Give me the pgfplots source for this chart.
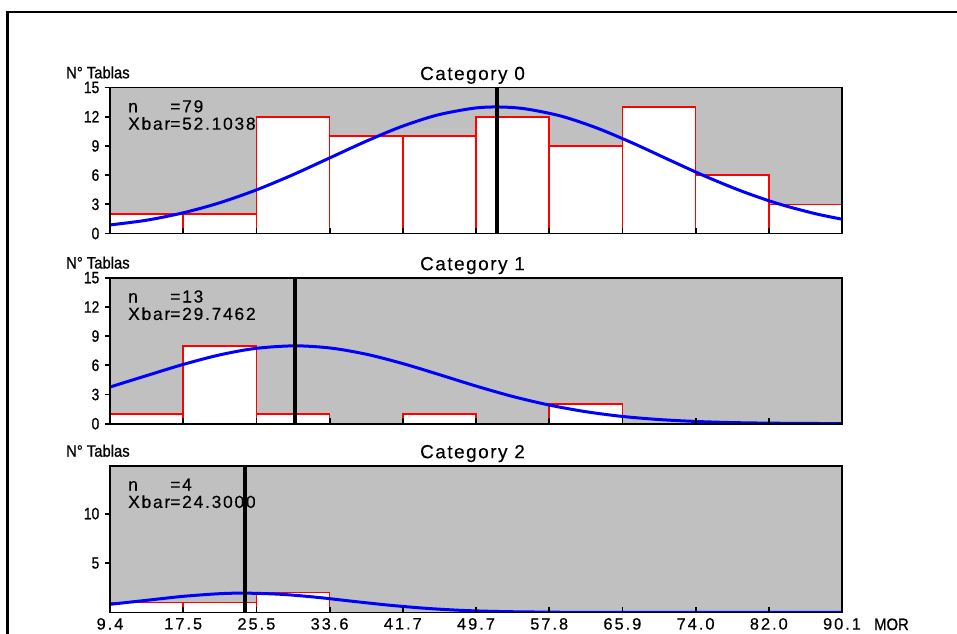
\documentclass[border=0pt]{standalone}
\usepackage{fontspec}
\setmainfont{Liberation Sans}
\newfontfamily\ttlfont[LetterSpace=8,FakeBold=0.3]{Liberation Sans}
\newfontfamily\annfont[LetterSpace=10,FakeBold=0.3]{Liberation Sans}
\newfontfamily\xtfont[LetterSpace=12,FakeBold=0.4]{Liberation Sans}
\newfontfamily\ytfont[FakeBold=0.9]{Liberation Sans}
\usepackage{graphicx}
\usepackage{pgfplots}
\pgfplotsset{compat=1.18}
\definecolor{silver}{RGB}{192,192,192}
\pgfplotsset{
  hist/.style={
    scale only axis, width=732bp, height=146bp,
    xmin=9.4, xmax=90.1, ymin=0, ymax=15,
    axis background/.style={fill=silver},
    axis line style={line width=1.8bp, black},
    axis on top,
    xtick={9.4,17.47,25.54,33.61,41.68,49.75,57.82,65.89,73.96,82.03,90.1},
    xtick align=inside, ytick align=outside,
    major tick length=5.5bp,
    every tick/.style={black, line width=1.8bp},
    xtick pos=lower, ytick pos=left,
    xticklabels={},
    /pgf/number format/assume math mode=true,
    yticklabel style={font=\ytfont\fontsize{16.5}{16.5}\selectfont, inner sep=0pt, anchor=east, xshift=-5bp},
    yticklabel={\scalebox{0.84}[1]{\pgfmathprintnumber{\tick}}},
  },
  bars/.style={ybar interval, fill=white, draw=red, line width=1.6bp},
  curve/.style={blue, line width=3bp, smooth, no marks},
  mline/.style={black, line width=4bp, no marks},
}
\begin{document}
\begin{tikzpicture}
\useasboundingbox (0,0) rectangle (957bp,-634bp);
\draw[line width=2.5bp] (7.3bp,-640bp) -- (7.3bp,-12bp) -- (960bp,-12bp);

% ---------- Panel 1 ----------
\begin{axis}[hist, at={(110bp,-87.5bp)}, anchor=north west,
  ytick={0,3,6,9,12,15}]
\addplot[bars] coordinates {(9.4,2) (17.47,2) (25.54,12) (33.61,10) (41.68,10) (49.75,12) (57.82,9) (65.89,13) (73.96,6) (82.03,3) (90.1,3)};
\addplot[curve] coordinates {(9.4,0.88) (13.4,1.36) (17.4,2.11) (21.4,3.13) (25.4,4.43) (29.4,5.97) (33.4,7.67) (37.4,9.38) (41.4,10.94) (45.4,12.15) (49.4,12.86) (52.1,13.0) (55.1,12.82) (59.1,12.07) (63.1,10.83) (67.1,9.26) (71.1,7.54) (75.1,5.85) (79.1,4.33) (83.1,3.05) (87.1,2.05) (90.1,1.47)};
\addplot[mline] coordinates {(52.1038,0) (52.1038,15)};
\end{axis}

% ---------- Panel 2 ----------
\begin{axis}[hist, at={(110bp,-277.7bp)}, anchor=north west,
  ytick={0,3,6,9,12,15}]
\addplot[bars] coordinates {(9.4,1) (17.47,8) (25.54,1) (33.61,0) (41.68,1) (49.75,0) (57.82,2) (65.89,0) (73.96,0) (82.03,0) (90.1,0)};
\addplot[curve] coordinates {(9.4,3.77) (13.4,4.93) (17.4,6.07) (21.4,7.05) (25.4,7.73) (29.75,8.0) (33.75,7.77) (37.75,7.12) (41.75,6.16) (45.75,5.03) (49.75,3.87) (53.75,2.81) (57.75,1.93) (61.75,1.25) (65.75,0.76) (69.75,0.44) (73.75,0.24) (77.75,0.12) (81.75,0.06) (85.75,0.03) (90.1,0.01)};
\addplot[mline] coordinates {(29.7462,0) (29.7462,15)};
\end{axis}

% ---------- Panel 3 ----------
\begin{axis}[hist, at={(110bp,-465.7bp)}, anchor=north west, height=146.7bp,
  ymax=14.85, ytick={5,10},
  xticklabels={9.4,17.5,25.5,33.6,41.7,49.7,57.8,65.9,74.0,82.0,90.1},
  xticklabel style={font=\xtfont\fontsize{16.5}{16.5}\selectfont, inner sep=0pt, anchor=north, yshift=-5.5bp}]
\addplot[bars] coordinates {(9.4,1) (17.47,1) (25.54,2) (33.61,0) (41.68,0) (49.75,0) (57.82,0) (65.89,0) (73.96,0) (82.03,0) (90.1,0)};
\addplot[curve] coordinates {(9.4,0.82) (13.4,1.22) (17.4,1.62) (21.4,1.89) (24.3,1.95) (28.3,1.83) (32.3,1.52) (36.3,1.11) (40.3,0.72) (44.3,0.41) (48.3,0.20) (52.3,0.09) (56.3,0.04) (60.3,0.01) (70,0) (90.1,0)};
\addplot[mline] coordinates {(24.3,0) (24.3,14.85)};
\end{axis}

% ---------- Texts ----------
\node[anchor=base, inner sep=0pt, font=\ttlfont\fontsize{19}{19}\selectfont] at (472.5bp,-80bp) {Category 0};
\node[anchor=base, inner sep=0pt, font=\ttlfont\fontsize{19}{19}\selectfont] at (472.5bp,-270.2bp) {Category 1};
\node[anchor=base, inner sep=0pt, font=\ttlfont\fontsize{19}{19}\selectfont] at (472.5bp,-458.2bp) {Category 2};

\node[anchor=base west, inner sep=0pt, font=\ytfont\fontsize{16.5}{16.5}\selectfont] at (66bp,-78.3bp) {\scalebox{0.9}[1]{N° Tablas}};
\node[anchor=base west, inner sep=0pt, font=\ytfont\fontsize{16.5}{16.5}\selectfont] at (66bp,-268.5bp) {\scalebox{0.9}[1]{N° Tablas}};
\node[anchor=base west, inner sep=0pt, font=\ytfont\fontsize{16.5}{16.5}\selectfont] at (66bp,-456.7bp) {\scalebox{0.9}[1]{N° Tablas}};
\node[anchor=base west, inner sep=0pt, font=\ytfont\fontsize{16.5}{16.5}\selectfont] at (874bp,-630bp) {\scalebox{0.9}[1]{MOR}};

\node[anchor=base west, inner sep=0pt, font=\annfont\fontsize{17.5}{16}\selectfont] at (128bp,-112.3bp)
  {\begin{tabular}[t]{@{}l@{}l@{}}n&=79\\Xbar&=52.1038\end{tabular}};
\node[anchor=base west, inner sep=0pt, font=\annfont\fontsize{17.5}{16}\selectfont] at (128bp,-302.5bp)
  {\begin{tabular}[t]{@{}l@{}l@{}}n&=13\\Xbar&=29.7462\end{tabular}};
\node[anchor=base west, inner sep=0pt, font=\annfont\fontsize{17.5}{16}\selectfont] at (128bp,-490.5bp)
  {\begin{tabular}[t]{@{}l@{}l@{}}n&=4\\Xbar&=24.3000\end{tabular}};
\end{tikzpicture}
\end{document}
